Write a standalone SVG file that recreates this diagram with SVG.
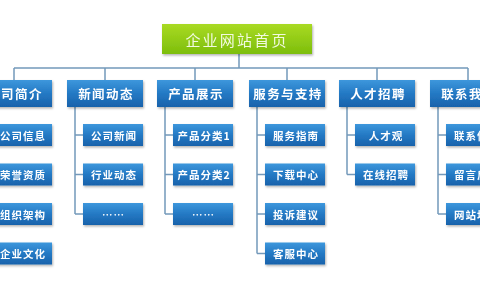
<svg xmlns="http://www.w3.org/2000/svg" width="480" height="300" viewBox="0 0 480 300">
<style>
.blue{fill:url(#gb);}
.green{fill:url(#gg);}
.t{font-family:"Noto Sans CJK SC","Noto Sans",sans-serif;fill:#fff;text-anchor:middle;dominant-baseline:central;font-weight:bold;}
.top{font-size:15px;letter-spacing:2.2px;fill:#f2fae0;font-weight:normal;}
.p{font-size:12.5px;letter-spacing:1.4px;}
.c{font-size:10.5px;letter-spacing:1px;}
.ln{fill:none;stroke:#7399ba;stroke-width:1.5;}
</style>
<defs>
<linearGradient id="gb" x1="0" y1="0" x2="0" y2="1">
<stop offset="0" stop-color="#3d97dc"/>
<stop offset="0.5" stop-color="#2479c4"/>
<stop offset="1" stop-color="#1862ab"/>
</linearGradient>
<linearGradient id="gg" x1="0" y1="0" x2="0" y2="1">
<stop offset="0" stop-color="#a9da22"/>
<stop offset="1" stop-color="#7dbe0c"/>
</linearGradient>
<filter id="sh" x="-10%" y="-10%" width="130%" height="150%">
<feDropShadow dx="1" dy="1.5" stdDeviation="1" flood-color="#000" flood-opacity="0.3"/>
</filter>
</defs>
<rect width="480" height="300" fill="#fff"/>
<g id="connectors" class="ln">
<path d="M239 54V68M14 68H468M14 68V80M105 68V80M195 68V80M287 68V80M377 68V80M468 68V80"/>
<path d="M-16 107V253.5M-16 135H-8M-16 174.5H-8M-16 214H-8M-16 253.5H-8"/>
<path d="M75 107V214M75 135H83M75 174.5H83M75 214H83"/>
<path d="M165 107V214M165 135H173M165 174.5H173M165 214H173"/>
<path d="M257 107V253.5M257 135H265M257 174.5H265M257 214H265M257 253.5H265"/>
<path d="M347 107V174.5M347 135H355M347 174.5H355"/>
<path d="M438 107V214M438 135H446M438 174.5H446M438 214H446"/>
</g>
<g id="home" filter="url(#sh)"><rect class="green" x="162" y="24" width="150" height="30"/><text class="t top" x="237" y="39">企业网站首页</text></g>
<g id="n1" filter="url(#sh)"><rect class="blue" x="-24" y="80" width="76" height="27"/><text class="t p" x="15" y="93.5">公司简介</text></g>
<g id="n2" filter="url(#sh)"><rect class="blue" x="67" y="80" width="76" height="27"/><text class="t p" x="106" y="93.5">新闻动态</text></g>
<g id="n3" filter="url(#sh)"><rect class="blue" x="157" y="80" width="76" height="27"/><text class="t p" x="196" y="93.5">产品展示</text></g>
<g id="n4" filter="url(#sh)"><rect class="blue" x="249" y="80" width="76" height="27"/><text class="t p" x="288" y="93.5">服务与支持</text></g>
<g id="n5" filter="url(#sh)"><rect class="blue" x="339" y="80" width="76" height="27"/><text class="t p" x="378" y="93.5">人才招聘</text></g>
<g id="n6" filter="url(#sh)"><rect class="blue" x="430" y="80" width="76" height="27"/><text class="t p" x="469" y="93.5">联系我们</text></g>
<g id="n1a" filter="url(#sh)"><rect class="blue" x="-8" y="124" width="60" height="22"/><text class="t c" x="23" y="135">公司信息</text></g>
<g id="n1b" filter="url(#sh)"><rect class="blue" x="-8" y="163.5" width="60" height="22"/><text class="t c" x="23" y="174.5">荣誉资质</text></g>
<g id="n1c" filter="url(#sh)"><rect class="blue" x="-8" y="203" width="60" height="22"/><text class="t c" x="23" y="214">组织架构</text></g>
<g id="n1d" filter="url(#sh)"><rect class="blue" x="-8" y="242.5" width="60" height="22"/><text class="t c" x="23" y="253.5">企业文化</text></g>
<g id="n2a" filter="url(#sh)"><rect class="blue" x="83" y="124" width="60" height="22"/><text class="t c" x="114" y="135">公司新闻</text></g>
<g id="n2b" filter="url(#sh)"><rect class="blue" x="83" y="163.5" width="60" height="22"/><text class="t c" x="114" y="174.5">行业动态</text></g>
<g id="n2c" filter="url(#sh)"><rect class="blue" x="83" y="203" width="60" height="22"/><text class="t c" x="113.5" y="214">……</text></g>
<g id="n3a" filter="url(#sh)"><rect class="blue" x="173" y="124" width="60" height="22"/><text class="t c" x="204" y="135">产品分类1</text></g>
<g id="n3b" filter="url(#sh)"><rect class="blue" x="173" y="163.5" width="60" height="22"/><text class="t c" x="204" y="174.5">产品分类2</text></g>
<g id="n3c" filter="url(#sh)"><rect class="blue" x="173" y="203" width="60" height="22"/><text class="t c" x="203.5" y="214">……</text></g>
<g id="n4a" filter="url(#sh)"><rect class="blue" x="265" y="124" width="60" height="22"/><text class="t c" x="296" y="135">服务指南</text></g>
<g id="n4b" filter="url(#sh)"><rect class="blue" x="265" y="163.5" width="60" height="22"/><text class="t c" x="296" y="174.5">下载中心</text></g>
<g id="n4c" filter="url(#sh)"><rect class="blue" x="265" y="203" width="60" height="22"/><text class="t c" x="296" y="214">投诉建议</text></g>
<g id="n4d" filter="url(#sh)"><rect class="blue" x="265" y="242.5" width="60" height="22"/><text class="t c" x="296" y="253.5">客服中心</text></g>
<g id="n5a" filter="url(#sh)"><rect class="blue" x="355" y="124" width="60" height="22"/><text class="t c" x="386" y="135">人才观</text></g>
<g id="n5b" filter="url(#sh)"><rect class="blue" x="355" y="163.5" width="60" height="22"/><text class="t c" x="386" y="174.5">在线招聘</text></g>
<g id="n6a" filter="url(#sh)"><rect class="blue" x="446" y="124" width="60" height="22"/><text class="t c" x="477" y="135">联系信息</text></g>
<g id="n6b" filter="url(#sh)"><rect class="blue" x="446" y="163.5" width="60" height="22"/><text class="t c" x="477" y="174.5">留言反馈</text></g>
<g id="n6c" filter="url(#sh)"><rect class="blue" x="446" y="203" width="60" height="22"/><text class="t c" x="477" y="214">网站地图</text></g>
</svg>
